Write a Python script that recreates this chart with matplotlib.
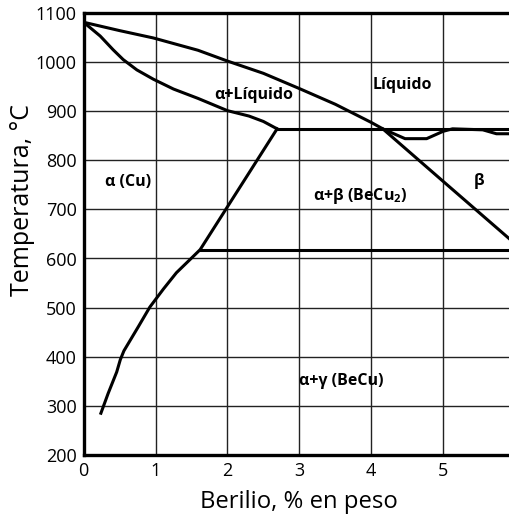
import numpy as np
import matplotlib
matplotlib.use("Agg")
import matplotlib.pyplot as plt

plt.rcParams['font.family'] = ['Open Sans', 'DejaVu Sans']
plt.rcParams['mathtext.fontset'] = 'custom'
plt.rcParams['mathtext.bf'] = 'Open Sans:bold'
plt.rcParams['mathtext.rm'] = 'Open Sans'

# liquidus (Cu side down to eutectic, then beta liquidus)
liq_x = [0.0, 0.5, 0.97, 1.59, 2.0, 2.5, 3.0, 3.5, 4.0, 4.16, 5.0, 6.0]
liq_t = [1081, 1064, 1049, 1024, 1002, 977, 946, 914, 877, 864, 757, 630]

# alpha solidus
sol_x = [0.0, 0.23, 0.41, 0.55, 0.74, 0.97, 1.25, 1.59, 2.0, 2.3, 2.5, 2.69]
sol_t = [1081, 1053, 1025, 1005, 984, 965, 945, 926, 901, 890, 879, 864]

# alpha solvus
solv_x = [2.69, 1.62, 1.48, 1.29, 1.11, 0.92, 0.76, 0.56, 0.51, 0.46, 0.34, 0.24]
solv_t = [864, 618, 598, 571, 538, 501, 461, 412, 394, 369, 325, 285]

# beta boundary near the eutectic
beta_x = [4.16, 4.47, 4.77, 5.0, 5.13, 5.55, 5.74, 6.0]
beta_t = [864, 844, 844, 859, 864, 862, 854, 854]

# invariant lines
eut_x, eut_t = [2.69, 6.0], 864
eutd_x, eutd_t = [1.62, 6.0], 618

fig = plt.figure(figsize=(5.1, 5.17), dpi=100)
ax = fig.add_axes([0.164, 0.12, 0.846, 0.855])

lw = 2.2
for xs, ts in [(liq_x, liq_t), (sol_x, sol_t), (solv_x, solv_t), (beta_x, beta_t)]:
    ax.plot(xs, ts, color='black', linewidth=lw, solid_joinstyle='round')
ax.plot(eut_x, [eut_t, eut_t], color='black', linewidth=lw)
ax.plot(eutd_x, [eutd_t, eutd_t], color='black', linewidth=lw)

ax.set_xlim(0, 6)
ax.set_ylim(200, 1100)
ax.set_xticks(range(0, 7))
ax.set_yticks(range(200, 1101, 100))
ax.grid(True, color='#222222', linewidth=1.0)
ax.tick_params(length=0, labelsize=13, pad=5)

for s in ['left', 'bottom', 'top']:
    ax.spines[s].set_linewidth(2.4)
ax.spines['right'].set_visible(False)

ax.set_xlabel("Berilio, % en peso", fontsize=17.2, labelpad=7)
ax.set_ylabel("Temperatura, °C", fontsize=18, va='center')
ax.yaxis.set_label_coords(-0.142, 0.577)

lbl = dict(fontsize=11.5, fontweight='bold', ha='center', va='center')
ax.text(2.36, 932, "α+Líquido", **lbl)
ax.text(4.43, 953, "Líquido", **lbl)
ax.text(0.62, 755, "α (Cu)", **lbl)
ax.text(3.85, 727, r"α+β (BeCu$_\mathbf{2}$)", **lbl)
ax.text(5.5, 757, "β", **lbl)
ax.text(3.58, 350, "α+γ (BeCu)", **lbl)

fig.savefig("out.png", dpi=100)
